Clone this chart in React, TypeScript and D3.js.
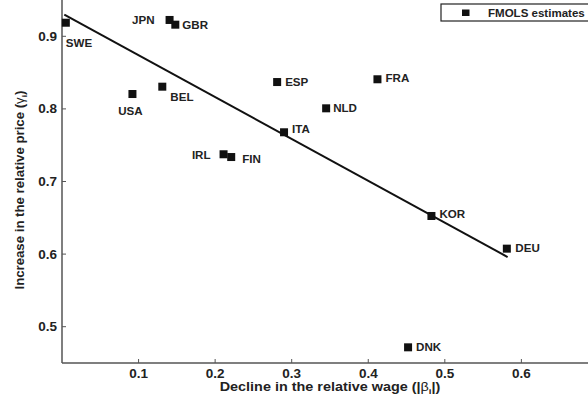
import { useEffect, useRef } from "react";
import * as d3 from "d3";

const countries = ["SWE", "JPN", "GBR", "USA", "BEL", "ESP", "ITA", "IRL", "FIN", "FRA", "NLD", "KOR", "DEU", "DNK"];
const wageDecline = [0.005, 0.1405, 0.148, 0.092, 0.131, 0.281, 0.29, 0.211, 0.221, 0.412, 0.345, 0.4825, 0.581, 0.452];
const priceIncrease = [0.9187, 0.9225, 0.916, 0.8205, 0.8306, 0.837, 0.7678, 0.7375, 0.7337, 0.8408, 0.8008, 0.6525, 0.6075, 0.4716];
// label placement: [dx, dy to baseline, anchor]
const labelPos: [number, number, string][] = [
  [0, 24, "start"], [-15, 4, "end"], [7, 4, "start"], [-2, 21, "middle"], [8, 14, "start"],
  [8, 3.5, "start"], [8, 1, "start"], [-13, 5, "end"], [11, 6, "start"], [8, 3, "start"],
  [7, 3.5, "start"], [8, 2.5, "start"], [8.5, 3, "start"], [8, 3.5, "start"],
];
const fitX = [0.003, 0.582];
const fitY = [0.93, 0.596];
const xTicks = [0.1, 0.2, 0.3, 0.4, 0.5, 0.6];
const yTicks = [0.5, 0.6, 0.7, 0.8, 0.9];

const W = 588;
const H = 403;
const font = "Liberation Sans, Arial, Helvetica, sans-serif";
const SX = 1.16; // the original's type is a bit wider than Liberation Sans

export default function App() {
  const ref = useRef<SVGSVGElement>(null);

  useEffect(() => {
    const svg = d3.select(ref.current);
    svg.selectAll("*").remove();

    const m = { left: 62, right: 0, top: 0, bottom: 40 };
    const x = d3.scaleLinear().domain([0, 0.687]).range([m.left, W - m.right]);
    const y = d3.scaleLinear().domain([0.45, 0.95]).range([H - m.bottom, m.top]);
    const axisColor = "#555";
    const ink = "#222";

    // axes lines
    svg.append("line").attr("x1", x.range()[0]).attr("x2", x.range()[1])
      .attr("y1", y(0.45)).attr("y2", y(0.45)).attr("stroke", axisColor).attr("stroke-width", 1.5);
    svg.append("line").attr("x1", x(0)).attr("x2", x(0))
      .attr("y1", y.range()[0]).attr("y2", y.range()[1]).attr("stroke", axisColor).attr("stroke-width", 1.5);

    svg.selectAll(".xt").data(xTicks).join("line")
      .attr("x1", (d) => x(d)).attr("x2", (d) => x(d))
      .attr("y1", y(0.45)).attr("y2", y(0.45) - 4).attr("stroke", axisColor).attr("stroke-width", 1);
    svg.selectAll(".xl").data(xTicks).join("text")
      .attr("transform", (d) => `translate(${x(d)},${y(0.45) + 15}) scale(1.08,1)`)
      .attr("text-anchor", "middle").attr("font-family", font).attr("font-weight", "bold")
      .attr("font-size", 12.5).attr("fill", ink).text((d) => d3.format(".1f")(d));

    svg.selectAll(".yt").data(yTicks).join("line")
      .attr("x1", x(0)).attr("x2", x(0) + 4)
      .attr("y1", (d) => y(d)).attr("y2", (d) => y(d)).attr("stroke", axisColor).attr("stroke-width", 1);
    svg.selectAll(".yl").data(yTicks).join("text")
      .attr("transform", (d) => `translate(${x(0) - 5},${y(d) + 4.5}) scale(1.08,1)`)
      .attr("text-anchor", "end").attr("font-family", font).attr("font-weight", "bold")
      .attr("font-size", 12.5).attr("fill", ink).text((d) => d3.format(".1f")(d));

    // axis titles
    const xt = svg.append("text").attr("transform", `translate(330,391) scale(1.2,1)`)
      .attr("text-anchor", "middle").attr("font-family", font).attr("font-weight", "bold")
      .attr("font-size", 12).attr("fill", ink);
    xt.append("tspan").text("Decline in the relative wage (|");
    xt.append("tspan").attr("font-weight", "normal").text("β");
    xt.append("tspan").attr("font-size", 8).attr("dy", 3).text("i");
    xt.append("tspan").attr("dy", -3).text("|)");

    const yt = svg.append("text").attr("transform", `translate(24,190) rotate(-90) scale(1.1,1)`)
      .attr("text-anchor", "middle").attr("font-family", font).attr("font-weight", "bold")
      .attr("font-size", 12).attr("fill", ink);
    yt.append("tspan").text("Increase in the relative price (");
    yt.append("tspan").attr("font-weight", "normal").text("γ");
    yt.append("tspan").attr("font-size", 8).attr("dy", 3).text("i");
    yt.append("tspan").attr("dy", -3).text(")");

    // fitted line
    svg.append("path")
      .datum(fitX.map((v, i) => [v, fitY[i]] as [number, number]))
      .attr("d", d3.line<[number, number]>().x((d) => x(d[0])).y((d) => y(d[1])))
      .attr("stroke", "#111").attr("stroke-width", 2).attr("fill", "none");

    // points
    const data = countries.map((c, i) => ({ c, vx: wageDecline[i], vy: priceIncrease[i], p: labelPos[i] }));
    const s = 8;
    svg.selectAll(".pt").data(data).join("rect")
      .attr("x", (d) => x(d.vx) - s / 2).attr("y", (d) => y(d.vy) - s / 2)
      .attr("width", s).attr("height", s).attr("fill", "#111");
    svg.selectAll(".lb").data(data).join("text")
      .attr("transform", (d) => `translate(${x(d.vx) + d.p[0]},${y(d.vy) + d.p[1]}) scale(${SX},1)`)
      .attr("text-anchor", (d) => d.p[2]).attr("font-family", font).attr("font-weight", "bold")
      .attr("font-size", 10).attr("fill", ink).text((d) => d.c);

    // legend
    svg.append("rect").attr("x", 441).attr("y", 4).attr("width", 160).attr("height", 17)
      .attr("fill", "white").attr("stroke", "#222").attr("stroke-width", 1.2);
    svg.append("rect").attr("x", 462).attr("y", 9.5).attr("width", 7.5).attr("height", 6.5).attr("fill", "#111");
    svg.append("text").attr("transform", `translate(488,16.5) scale(1.1,1)`)
      .attr("font-family", font).attr("font-weight", "bold")
      .attr("font-size", 10.5).attr("fill", ink).text("FMOLS estimates");
  }, []);

  return (
    <svg ref={ref} width={W} height={H}
      style={{ position: "absolute", left: 0, top: 0, background: "white" }} />
  );
}
